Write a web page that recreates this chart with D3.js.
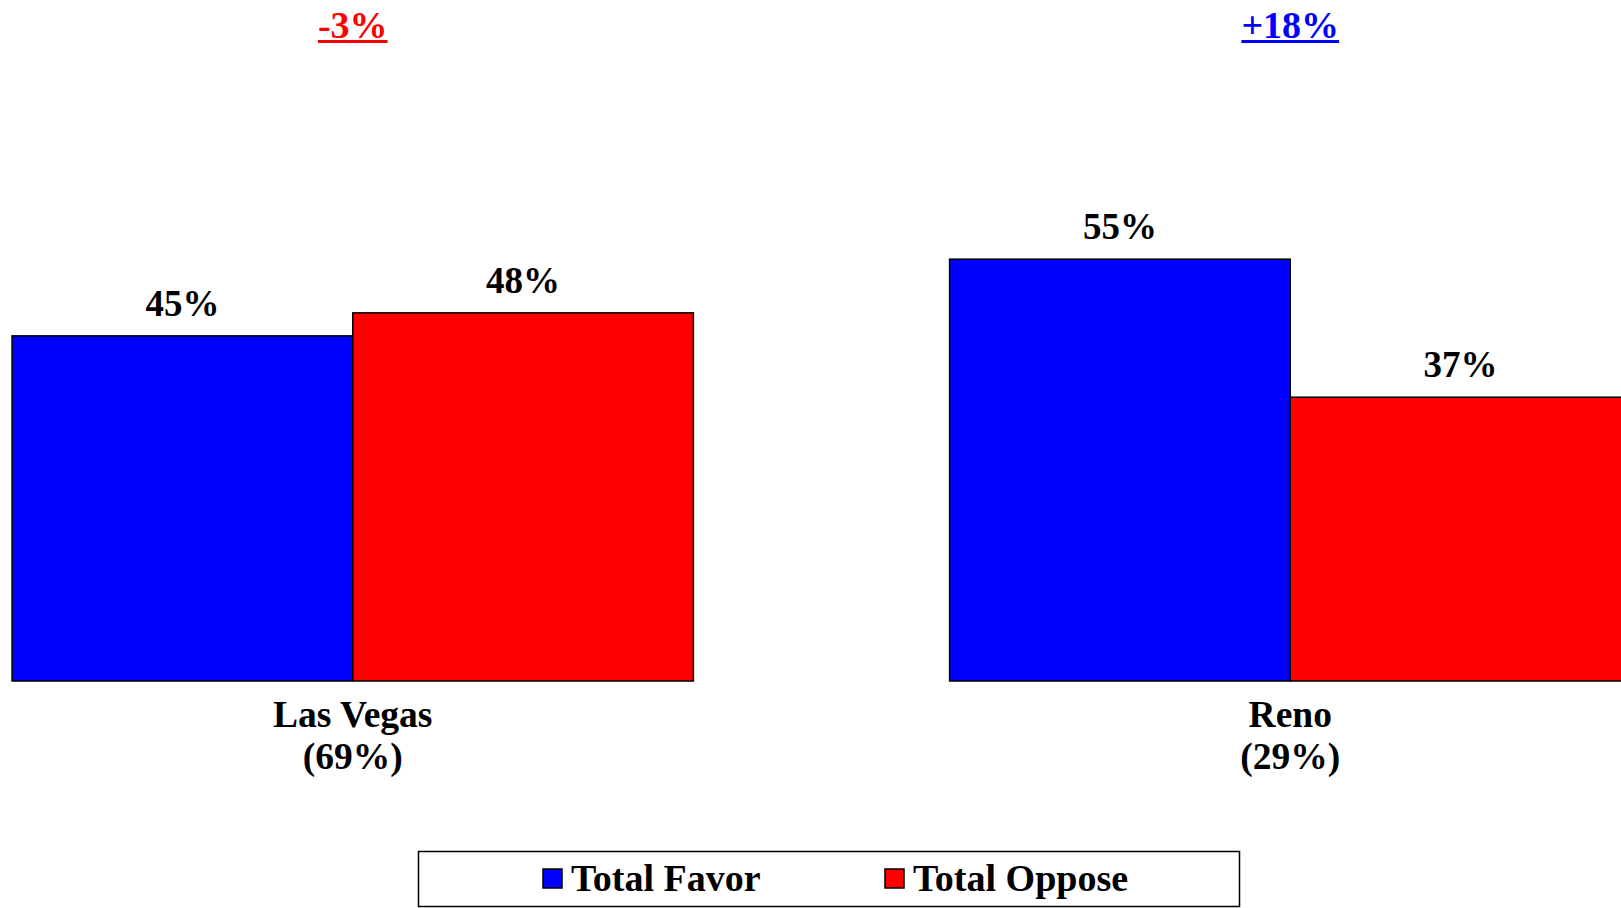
<!DOCTYPE html>
<html>
<head>
<meta charset="utf-8">
<script src="https://cdn.jsdelivr.net/npm/d3@7"></script>
<style>
  body { margin: 0; background: #fff; overflow: hidden; }
  svg { display: block; font-family: "Liberation Serif", "Times New Roman", serif; font-weight: bold; }
</style>
</head>
<body>
<div class="chart"></div>
<script>
// data
const categories = ["Las Vegas", "Reno"]
const shares = ["(69%)", "(29%)"]
const series = ["Total Favor", "Total Oppose"]
const favor = [45, 55]
const oppose = [48, 37]
const diffs = ["-3%", "+18%"]
const colors = ["#0000ff", "#ff0000"]

var width = 1621,
    height = 908

const svg = d3.select(".chart")
  .append("svg")
    .attr("width", width)
    .attr("height", height)

// the chart runs past the right edge of the window, as in the original
const x0 = d3.scaleBand()
  .domain(categories)
  .range([-116, 1759])

const x1 = d3.scaleBand()
  .domain(series)
  .range([0, x0.bandwidth()])
  .paddingOuter(0.376)

const y = d3.scaleLinear()
  .domain([0, 100])
  .range([681, -86])

const rows = categories.map((c, i) => ({
  cat: c, share: shares[i], diff: diffs[i],
  vals: [favor[i], oppose[i]]
}))

const groups = svg.selectAll("g.group")
  .data(rows)
  .enter()
  .append("g")
    .attr("class", "group")
    .attr("transform", d => "translate(" + x0(d.cat) + ",0)")

groups.selectAll("rect")
  .data(d => d.vals.map((v, j) => ({key: series[j], value: v, j: j})))
  .enter()
  .append("rect")
    .attr("x", d => x1(d.key))
    .attr("y", d => y(d.value))
    .attr("width", x1.bandwidth())
    .attr("height", d => y(0) - y(d.value))
    .attr("fill", d => colors[d.j])
    .attr("stroke", "#000")
    .attr("stroke-width", 1.5)

groups.selectAll("text.val")
  .data(d => d.vals.map((v, j) => ({key: series[j], value: v})))
  .enter()
  .append("text")
    .attr("class", "val")
    .attr("x", d => x1(d.key) + x1.bandwidth() / 2)
    .attr("y", d => y(d.value) - 20)
    .attr("text-anchor", "middle")
    .style("font-size", "37px")
    .text(d => d.value + "%")

// category labels
const mid = x0.bandwidth() / 2
groups.append("text")
  .attr("x", mid)
  .attr("y", 727)
  .attr("text-anchor", "middle")
  .style("font-size", "37.5px")
  .text(d => d.cat)
groups.append("text")
  .attr("x", mid)
  .attr("y", 769)
  .attr("text-anchor", "middle")
  .style("font-size", "37.5px")
  .text(d => d.share)

// difference headers, underlined
groups.append("text")
  .attr("class", "diff")
  .attr("x", mid)
  .attr("y", 38)
  .attr("text-anchor", "middle")
  .style("font-size", "38px")
  .attr("fill", d => d.diff[0] == "-" ? colors[1] : colors[0])
  .text(d => d.diff)
  .each(function(d) {
    var b = this.getBBox()
    d3.select(this.parentNode).append("rect")
      .attr("x", b.x)
      .attr("y", 40)
      .attr("width", b.width)
      .attr("height", 3)
      .attr("fill", d.diff[0] == "-" ? colors[1] : colors[0])
  })

// legend
const legend = svg.append("g")
legend.append("rect")
  .attr("x", 418.5)
  .attr("y", 851.5)
  .attr("width", 821)
  .attr("height", 55)
  .attr("fill", "#fff")
  .attr("stroke", "#000")
  .attr("stroke-width", 1.5)

const legX = [543, 885]
const items = legend.selectAll("g.item")
  .data(series)
  .enter()
  .append("g")
    .attr("class", "item")
    .attr("transform", (d, i) => "translate(" + legX[i] + ",0)")
items.append("rect")
  .attr("x", 0)
  .attr("y", 869)
  .attr("width", 19)
  .attr("height", 19)
  .attr("fill", (d, i) => colors[i])
  .attr("stroke", "#000")
  .attr("stroke-width", 1.5)
items.append("text")
  .attr("x", 28)
  .attr("y", 891)
  .style("font-size", "38px")
  .text(d => d)
</script>
</body>
</html>
